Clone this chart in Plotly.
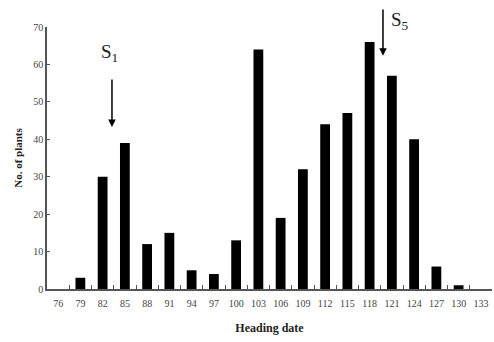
import plotly.graph_objects as go

heading_dates = ["76", "79", "82", "85", "88", "91", "94", "97", "100", "103",
                 "106", "109", "112", "115", "118", "121", "124", "127", "130", "133"]
plant_counts = [0, 3, 30, 39, 12, 15, 5, 4, 13, 64, 19, 32, 44, 47, 66, 57, 40, 6, 1, 0]
y_ticks = [0, 10, 20, 30, 40, 50, 60, 70]

serif = "Liberation Serif, Times New Roman, serif"

fig = go.Figure(go.Bar(x=heading_dates, y=plant_counts, marker=dict(color="black", line=dict(width=0)),
                       width=0.44))

fig.update_layout(
    width=494, height=342,
    margin=dict(l=47, r=2, t=27, b=53, autoexpand=False),
    paper_bgcolor="white", plot_bgcolor="white",
    showlegend=False,
    font=dict(family=serif, color="#444"),
    xaxis=dict(type="category", range=[-0.5, 19.5], tickson="boundaries",
               ticks="inside", ticklen=4, tickcolor="#555", tickangle=0, automargin=False,
               ticklabelstandoff=4,
               showline=True, linecolor="#555", linewidth=1.5,
               showgrid=False, zeroline=False,
               tickfont=dict(size=10, family=serif, color="#444"),
               title=dict(text="<b>Heading date</b>", font=dict(size=12, family=serif, color="#222"), standoff=16)),
    yaxis=dict(range=[0, 70], tickvals=y_ticks, ticks="inside", ticklen=3, tickcolor="#555",
               showline=True, linecolor="#555", linewidth=1.5, automargin=False,
               showgrid=False, zeroline=False,
               tickfont=dict(size=10, family=serif, color="#444"),
               title=dict(text="<b>No. of plants</b>", font=dict(size=11, family=serif, color="#222"), standoff=8)),
)

fig.add_annotation(x=2.42, y=43.3, ax=2.42, ay=56.4, axref="x", ayref="y", xref="x", yref="y",
                   text="", showarrow=True, arrowhead=2, arrowsize=1, arrowwidth=1.5, arrowcolor="black")
fig.add_annotation(x=14.6, y=62.3, ax=14.6, ay=75.1, axref="x", ayref="y", xref="x", yref="y",
                   text="", showarrow=True, arrowhead=2, arrowsize=1, arrowwidth=1.5, arrowcolor="black")
fig.add_annotation(x=2.3, y=63.0, xref="x", yref="y", text="S<sub>1</sub>", showarrow=False,
                   font=dict(size=19, family=serif, color="#222"))
fig.add_annotation(x=15.35, y=1.075, xref="x", yref="paper", text="S<sub>5</sub>", showarrow=False,
                   font=dict(size=19, family=serif, color="#222"))

fig.write_html("out.html")
